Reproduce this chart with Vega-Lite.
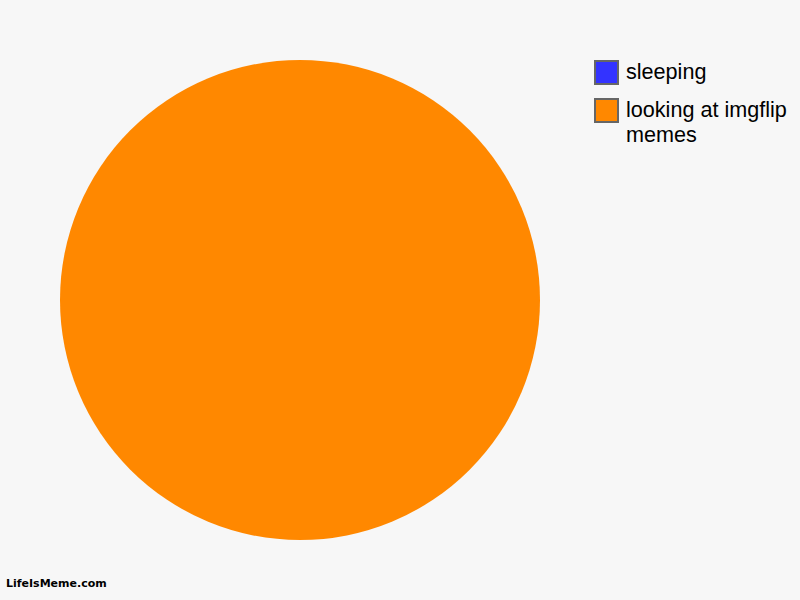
{
  "$schema": "https://vega.github.io/schema/vega-lite/v6.json",
  "width": 600,
  "height": 600,
  "autosize": {"type": "none"},
  "padding": {"left": 0, "top": 0, "right": 200, "bottom": 0},
  "background": "#f7f7f7",
  "data": {
    "values": [
      {"activity": "sleeping", "share": 0},
      {"activity": "looking at imgflip memes", "share": 100}
    ]
  },
  "title": {
    "text": "LifeIsMeme.com",
    "orient": "bottom",
    "anchor": "start",
    "offset": -22,
    "dx": 6,
    "font": "DejaVu Sans",
    "fontSize": 11,
    "fontWeight": "bold",
    "color": "#000000"
  },
  "mark": {"type": "arc", "outerRadius": 240, "stroke": null},
  "encoding": {
    "theta": {"field": "share", "type": "quantitative", "stack": true},
    "color": {
      "field": "activity",
      "type": "nominal",
      "scale": {
        "domain": ["sleeping", "looking at imgflip memes"],
        "range": ["#3333ff", "#ff8800"]
      },
      "legend": {
        "title": null,
        "orient": "none",
        "legendX": 594,
        "legendY": 60,
        "padding": 0,
        "symbolType": "square",
        "symbolSize": 529,
        "symbolStrokeWidth": 2,
        "symbolStrokeColor": "#666666",
        "symbolOpacity": 1,
        "labelFont": "Liberation Sans",
        "labelFontSize": 21.6,
        "labelColor": "#000000",
        "labelOffset": 7,
        "labelLimit": 300,
        "rowPadding": 7,
        "labelExpr": "datum.label == 'looking at imgflip memes' ? ['looking at imgflip', 'memes'] : datum.label"
      }
    }
  },
  "config": {
    "view": {"stroke": null},
    "style": {"guide-label": {"lineHeight": 25}}
  }
}
